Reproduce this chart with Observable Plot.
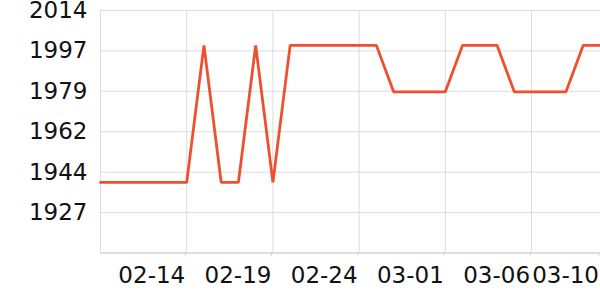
<!DOCTYPE html>
<html>
<head>
<meta charset="utf-8">
<script src="https://cdn.jsdelivr.net/npm/d3@7"></script>
<script src="https://cdn.jsdelivr.net/npm/@observablehq/plot@0.6"></script>
<style>
  html, body { margin: 0; padding: 0; background: #fff; }
  #chart svg { display: block; }
</style>
</head>
<body>
<div id="chart"></div>
<script>
// Data
const dates = [
  "2023-02-09","2023-02-10","2023-02-11","2023-02-12","2023-02-13","2023-02-14",
  "2023-02-15","2023-02-16","2023-02-17","2023-02-18","2023-02-19","2023-02-20",
  "2023-02-21","2023-02-22","2023-02-23","2023-02-24","2023-02-25","2023-02-26",
  "2023-02-27","2023-02-28","2023-03-01","2023-03-02","2023-03-03","2023-03-04",
  "2023-03-05","2023-03-06","2023-03-07","2023-03-08","2023-03-09","2023-03-10"
];
const values = [
  1940, 1940, 1940, 1940, 1940, 1940,
  1999, 1940, 1940, 1999, 1940, 1999,
  1999, 1999, 1999, 1999, 1999, 1979,
  1979, 1979, 1979, 1999, 1999, 1999,
  1979, 1979, 1979, 1979, 1999, 1999
];
const xTickLabels = ["02-14", "02-19", "02-24", "03-01", "03-06", "03-10"];
const yTicks = [1927, 1944.4, 1961.8, 1979.2, 1996.6, 2014];
const yDomain = [1909.6, 2014];
const xDomainLabels = ["2023-02-09", "2023-03-10"];

const parse = s => new Date(s + "T00:00:00Z");
const data = dates.map((d, i) => ({date: parse(d), value: values[i]}));
const xDomain = xDomainLabels.map(parse);
const xTicks = xTickLabels.map(l => parse("2023-" + l));

const font = "DejaVu Sans";
const chart = Plot.plot({
  width: 600,
  height: 300,
  marginLeft: 100,
  marginRight: 0,
  marginTop: 10,
  marginBottom: 47.5,
  style: {fontFamily: font, fontSize: "23px", background: "#fff", overflow: "visible"},
  x: {type: "utc", domain: xDomain},
  y: {domain: yDomain},
  marks: [
    Plot.gridY(yTicks, {stroke: "#dcdcdc", strokeOpacity: 1, strokeWidth: 1}),
    Plot.gridX([xDomain[0], ...xTicks], {stroke: "#dcdcdc", strokeOpacity: 1, strokeWidth: 1}),
    Plot.ruleY([yDomain[0]], {stroke: "#bdbdbd", strokeWidth: 1.2}),
    Plot.axisY(yTicks, {
      tickSize: 0, tickPadding: 13, fontSize: 23, fill: "#111",
      tickFormat: d => String(Math.round(d)), label: null
    }),
    Plot.axisX(xTicks, {
      tickSize: 3, tickPadding: 11, fontSize: 23, fill: "#111", stroke: "#cfcfcf",
      textAnchor: "end", dx: -1.5,
      tickFormat: d => d3.utcFormat("%m-%d")(d), label: null
    }),
    Plot.line(data, {x: "date", y: "value", stroke: "#ef4f2f", strokeWidth: 2.8, strokeLinejoin: "miter"})
  ]
});
document.getElementById("chart").appendChild(chart);
</script>
</body>
</html>
